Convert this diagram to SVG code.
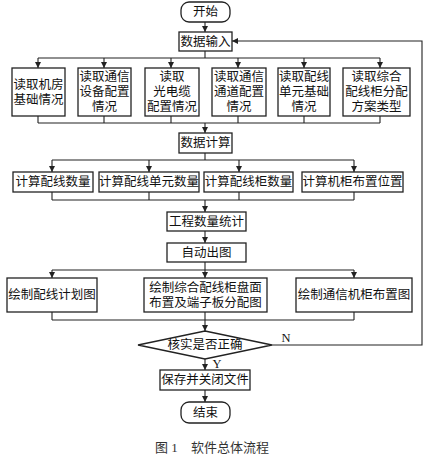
<svg xmlns="http://www.w3.org/2000/svg" width="430" height="468" viewBox="0 0 430 468">
<defs>
<style>
.box{fill:#fff;stroke:#222;stroke-width:1.3}
.ln{fill:none;stroke:#222;stroke-width:1.1}
.t{font-family:"Liberation Serif","Noto Sans CJK SC",serif;font-size:12.5px;fill:#111;text-anchor:middle;dominant-baseline:central}
.cap{font-family:"Liberation Serif","Noto Sans CJK SC",serif;font-size:13px;fill:#333;dominant-baseline:central}
</style>
<marker id="ah" viewBox="0 0 8 8" refX="8" refY="4" markerWidth="6" markerHeight="6" orient="auto" markerUnits="userSpaceOnUse">
<path d="M0,0 L8,4 L0,8 z" fill="#222"/>
</marker>
</defs>
<rect width="430" height="468" fill="#fff"/>

<g id="connectors">
<path class="ln" d="M205,22 V32" marker-end="url(#ah)"/>
<path class="ln" d="M205,51 V58 M38,58 H380"/>
<path class="ln" d="M38,58 V68" marker-end="url(#ah)"/>
<path class="ln" d="M104,58 V68" marker-end="url(#ah)"/>
<path class="ln" d="M171,58 V68" marker-end="url(#ah)"/>
<path class="ln" d="M238,58 V68" marker-end="url(#ah)"/>
<path class="ln" d="M304,58 V68" marker-end="url(#ah)"/>
<path class="ln" d="M380,58 V68" marker-end="url(#ah)"/>
<path class="ln" d="M38,116 V123 M104,116 V123 M171,116 V123 M238,116 V123 M304,116 V123 M380,116 V123 M38,123 H380"/>
<path class="ln" d="M205,123 V133" marker-end="url(#ah)"/>
<path class="ln" d="M205,153 V160 M52,160 H354"/>
<path class="ln" d="M52,160 V172" marker-end="url(#ah)"/>
<path class="ln" d="M149,160 V172" marker-end="url(#ah)"/>
<path class="ln" d="M239,160 V172" marker-end="url(#ah)"/>
<path class="ln" d="M354,160 V172" marker-end="url(#ah)"/>
<path class="ln" d="M52,192 V200 M149,192 V200 M239,192 V200 M354,192 V200 M52,200 H354"/>
<path class="ln" d="M205,200 V212" marker-end="url(#ah)"/>
<path class="ln" d="M205,231 V243" marker-end="url(#ah)"/>
<path class="ln" d="M205,262 V270 M52,270 H354"/>
<path class="ln" d="M52,270 V278" marker-end="url(#ah)"/>
<path class="ln" d="M205,270 V278" marker-end="url(#ah)"/>
<path class="ln" d="M354,270 V278" marker-end="url(#ah)"/>
<path class="ln" d="M52,312 V320 M205,312 V320 M354,312 V320 M52,320 H354"/>
<path class="ln" d="M205,320 V331" marker-end="url(#ah)"/>
<path class="ln" d="M272,345 H422 V41 H232" marker-end="url(#ah)"/>
<path class="ln" d="M205,359 V370" marker-end="url(#ah)"/>
<path class="ln" d="M205,390 V402" marker-end="url(#ah)"/>
<text class="t" x="286" y="338">N</text>
<text class="t" x="217" y="364">Y</text>
</g>

<g id="start"><rect class="box" x="181" y="2" width="49" height="20" rx="8"/><text class="t" x="205.5" y="12">开始</text></g>
<g id="input"><rect class="box" x="179" y="32" width="53" height="19"/><text class="t" x="205.5" y="41.5">数据输入</text></g>

<g id="r1"><rect class="box" x="12" y="68" width="53" height="48"/><text class="t" x="38.5" y="85">读取机房</text><text class="t" x="38.5" y="99.5">基础情况</text></g>
<g id="r2"><rect class="box" x="78" y="68" width="53" height="48"/><text class="t" x="104.5" y="77">读取通信</text><text class="t" x="104.5" y="92">设备配置</text><text class="t" x="104.5" y="107">情况</text></g>
<g id="r3"><rect class="box" x="145" y="68" width="54" height="48"/><text class="t" x="172" y="77">读取</text><text class="t" x="172" y="92">光电缆</text><text class="t" x="172" y="107">配置情况</text></g>
<g id="r4"><rect class="box" x="212" y="68" width="54" height="48"/><text class="t" x="239" y="77">读取通信</text><text class="t" x="239" y="92">通道配置</text><text class="t" x="239" y="107">情况</text></g>
<g id="r5"><rect class="box" x="278" y="68" width="52" height="48"/><text class="t" x="304" y="77">读取配线</text><text class="t" x="304" y="92">单元基础</text><text class="t" x="304" y="107">情况</text></g>
<g id="r6"><rect class="box" x="343" y="68" width="67" height="48"/><text class="t" x="376.5" y="77">读取综合</text><text class="t" x="376.5" y="92">配线柜分配</text><text class="t" x="376.5" y="107">方案类型</text></g>

<g id="calc"><rect class="box" x="179" y="133" width="53" height="20"/><text class="t" x="205.5" y="143">数据计算</text></g>

<g id="c1"><rect class="box" x="13" y="172" width="80" height="20"/><text class="t" x="53" y="182">计算配线数量</text></g>
<g id="c2"><rect class="box" x="99" y="172" width="100" height="20"/><text class="t" x="149" y="182">计算配线单元数量</text></g>
<g id="c3"><rect class="box" x="204" y="172" width="89" height="20"/><text class="t" x="248.5" y="182">计算配线柜数量</text></g>
<g id="c4"><rect class="box" x="302" y="172" width="101" height="20"/><text class="t" x="352.5" y="182">计算机柜布置位置</text></g>

<g id="stat"><rect class="box" x="167" y="212" width="79" height="19"/><text class="t" x="206.5" y="221.5">工程数量统计</text></g>
<g id="auto"><rect class="box" x="167" y="243" width="79" height="19"/><text class="t" x="206.5" y="252.5">自动出图</text></g>

<g id="d1"><rect class="box" x="7" y="278" width="90" height="34"/><text class="t" x="52" y="295">绘制配线计划图</text></g>
<g id="d2"><rect class="box" x="144" y="278" width="123" height="34"/><text class="t" x="205.5" y="287.5">绘制综合配线柜盘面</text><text class="t" x="205.5" y="303">布置及端子板分配图</text></g>
<g id="d3"><rect class="box" x="296" y="278" width="116" height="34"/><text class="t" x="354" y="295">绘制通信机柜布置图</text></g>

<g id="check"><polygon class="box" points="205,331 272,345 205,359 138,345"/><text class="t" x="205" y="345">核实是否正确</text></g>
<g id="save"><rect class="box" x="160" y="370" width="90" height="20"/><text class="t" x="205" y="380">保存并关闭文件</text></g>
<g id="end"><rect class="box" x="181" y="402" width="49" height="21" rx="8"/><text class="t" x="205.5" y="412.5">结束</text></g>

<text class="cap" x="155" y="447">图 1</text>
<text class="cap" x="191" y="447">软件总体流程</text>
</svg>
